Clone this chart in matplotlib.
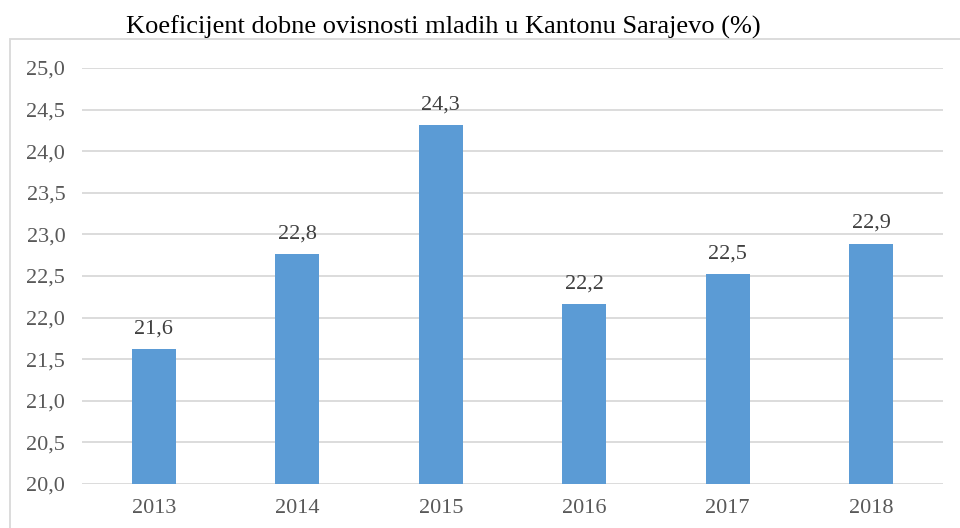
import matplotlib
matplotlib.use('Agg')
import matplotlib.pyplot as plt
from matplotlib.patches import Rectangle

# data
years = ['2013', '2014', '2015', '2016', '2017', '2018']
values = [21.62, 22.76, 24.31, 22.16, 22.52, 22.89]
yticks = [20.0, 20.5, 21.0, 21.5, 22.0, 22.5, 23.0, 23.5, 24.0, 24.5, 25.0]

title = 'Koeficijent dobne ovisnosti mladih u Kantonu Sarajevo (%)'

bar_color = '#5B9BD5'
grid_color = '#D9D9D9'
tick_color = '#595959'
lbl_color = '#404040'
fs = 16

plt.rcParams.update({'font.family': 'Liberation Serif'})


def comma(v):
    return '{0:.1f}'.format(v).replace('.', ',')


fig = plt.figure(figsize=(9.6, 5.28), dpi=100)

# outer chart border (left and top edges visible)
fig.patches.append(Rectangle((10 / 960, -0.2), 2.0, 0.2 + 1 - 38.5 / 528,
                             transform=fig.transFigure, fill=False,
                             edgecolor=grid_color, linewidth=1.3))

ax = fig.add_axes([82 / 960, 1 - 484 / 528, (943 - 82) / 960, (484 - 68) / 528])

x = range(len(years))
ax.bar(x, values, width=0.31, color=bar_color, zorder=3)
ax.set_ylim(20, 25)
ax.set_xlim(-0.5, len(years) - 0.5)

ax.set_yticks(yticks)
ax.set_yticklabels([comma(t) for t in yticks])
ax.set_xticks(list(x))
ax.set_xticklabels(years)

ax.grid(axis='y', color=grid_color, linewidth=1.3, zorder=0)
for s in ax.spines.values():
    s.set_visible(False)
ax.tick_params(axis='both', length=0, labelsize=fs, labelcolor=tick_color)
ax.tick_params(axis='y', pad=12)
ax.tick_params(axis='x', pad=11)

for i, v in enumerate(values):
    ax.annotate(comma(v), (i, v), xytext=(0, 8), textcoords='offset points',
                ha='center', va='bottom', fontsize=fs, color=lbl_color)

fig.text(443 / 960, 1 - 27 / 528, title, ha='center', va='center',
         fontsize=19, color='black')

fig.savefig('out.png', dpi=100)
